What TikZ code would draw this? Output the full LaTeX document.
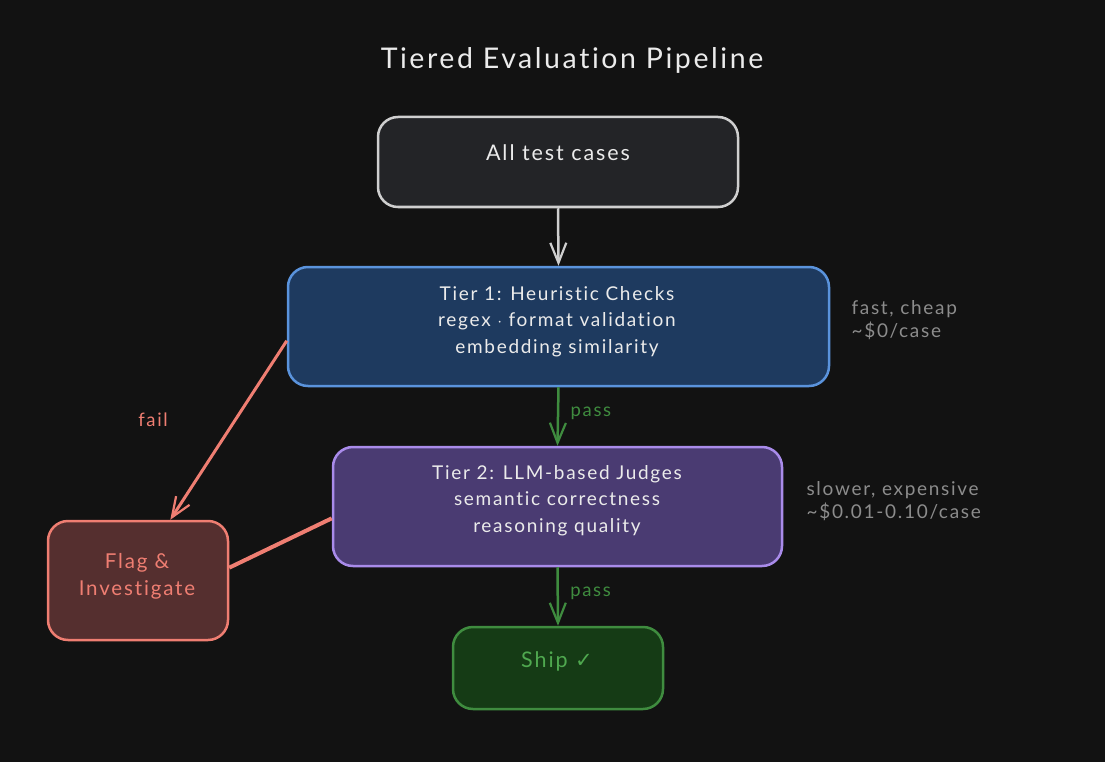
\documentclass[tikz,border=0pt]{standalone}
\usepackage{fontspec}
\setmainfont[LetterSpace=9,Ligatures=NoCommon]{Lato}
\newfontfamily\symfont{DejaVu Sans}
\usetikzlibrary{arrows.meta,calc}
\definecolor{bg}{HTML}{121212}
\definecolor{txt}{HTML}{EBEBEB}
\definecolor{note}{HTML}{8C8C8C}
\definecolor{allfill}{HTML}{232427}
\definecolor{allline}{HTML}{CFCFCF}
\definecolor{tonefill}{HTML}{1E3A5F}
\definecolor{toneline}{HTML}{5A93DC}
\definecolor{ttwofill}{HTML}{4A3B72}
\definecolor{ttwoline}{HTML}{A98BEA}
\definecolor{shipfill}{HTML}{153B15}
\definecolor{shipline}{HTML}{3F8C3F}
\definecolor{shiptxt}{HTML}{4FA84F}
\definecolor{flagfill}{HTML}{552F2F}
\definecolor{flagline}{HTML}{EF7E72}
\definecolor{passc}{HTML}{3F8C3F}
\tikzset{
  box/.style={draw, line width=2.5pt, rounded corners=20pt, inner sep=0pt},
  boxtext/.style={align=center, font=\fontsize{19}{26.5}\selectfont, text=txt},
  sidenote/.style={anchor=west, align=left, font=\fontsize{19}{23.5}\selectfont, text=note},
  passlabel/.style={anchor=west, font=\fontsize{18.5}{18}\selectfont, text=passc},
  barb/.style={-{Straight Barb[length=20pt,width=16pt,line width=2.2pt]}},
}
\begin{document}
\begin{tikzpicture}[x=1pt,y=-1pt]
\fill[bg] (0,0) rectangle (1105,762);
\useasboundingbox (0,0) rectangle (1105,762);

\node[font=\fontsize{28.5}{32}\selectfont, text=txt] (title) at (572,60) {Tiered Evaluation Pipeline};

\node[box, draw=allline, fill=allfill, minimum width=360pt, minimum height=90pt] (all) at (558,162) {};
\node[boxtext, font=\fontsize{21.5}{24}\selectfont] (allt) at (558,153) {All test cases};

\node[box, draw=toneline, fill=tonefill, minimum width=541pt, minimum height=119pt] (t1) at (558.5,326.5) {};
\node[boxtext] (t1t) at (557,321.5) {Tier 1: Heuristic Checks\\regex $\cdot$ format validation\\embedding similarity};

\node[box, draw=ttwoline, fill=ttwofill, minimum width=449pt, minimum height=119pt] (t2) at (557.5,506.5) {};
\node[boxtext] (t2t) at (557,500.5) {Tier 2: LLM-based Judges\\semantic correctness\\reasoning quality};

\node[box, draw=shipline, fill=shipfill, minimum width=210pt, minimum height=82pt] (ship) at (558,668) {};
\node[boxtext, text=shiptxt, font=\fontsize{21.5}{24}\selectfont] (shipt) at (557,661) {Ship {\symfont\fontsize{21}{20}\selectfont ✓}};

\node[box, draw=flagline, fill=flagfill, minimum width=180pt, minimum height=119pt] (fl) at (138,580.5) {};
\node[boxtext, text=flagline, font=\fontsize{20.5}{27}\selectfont] (flt) at (137,576.5) {Flag \&\\Investigate};

\node[sidenote] (n1) at (848,320) {fast, cheap\\\textasciitilde\$0/case};
\node[sidenote] (n2) at (803,501) {slower, expensive\\\textasciitilde\$0.01-0.10/case};

\draw[barb, allline, line width=2.5pt] (all.south) -- (t1.north);
\draw[barb, passc, line width=2.5pt] (t1.south) -- node[passlabel, pos=0.45, xshift=8pt] (p1) {pass} (t2.north);
\draw[barb, passc, line width=2.5pt] (t2.south) -- node[passlabel, pos=0.45, xshift=8pt] (p2) {pass} (ship.north);

\draw[barb, flagline, line width=3pt] (t1.183) -- (fl.62);
\node[font=\fontsize{18.5}{18}\selectfont, text=flagline] (fail) at (153,420) {fail};
\draw[flagline, line width=4pt] (t2.183.4) -- (fl.8);
\end{tikzpicture}
\end{document}
